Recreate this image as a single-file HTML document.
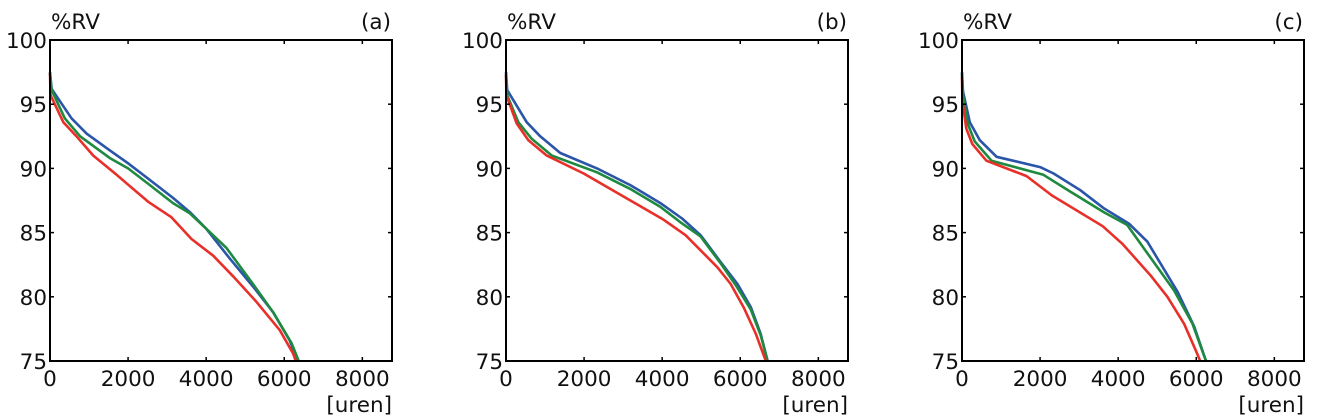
<!DOCTYPE html>
<html><head><meta charset="utf-8"><style>
html,body{margin:0;padding:0;background:#fff;}
svg{display:block;}
text{font-family:"DejaVu Sans","Liberation Sans",sans-serif;font-size:21.5px;fill:#111;}
</style></head><body>
<svg id="chart" width="1320" height="417" viewBox="0 0 1320 417"></svg>
<script>
const xTicks = [0, 2000, 4000, 6000, 8000];
const yTicks = [75, 80, 85, 90, 95, 100];
const panelLabels = ["(a)", "(b)", "(c)"];
const seriesColors = ["#2b55a8", "#1f8a3f", "#e8302a"];
const seriesNames = ["blue", "green", "red"];

const aBlueX = [0, 40, 550, 940, 1535, 2000, 2560, 3150, 3580, 4000, 4600, 5200, 5715, 6140, 6350];
const aBlueY = [97.5, 96.2, 93.9, 92.7, 91.4, 90.4, 89.1, 87.7, 86.6, 85.3, 83.0, 80.8, 78.8, 76.6, 75];
const aGreenX = [0, 40, 380, 770, 1535, 2000, 2560, 3150, 3580, 4000, 4520, 5200, 5715, 6185, 6370];
const aGreenY = [97.4, 96.1, 93.9, 92.5, 90.8, 90.0, 88.7, 87.3, 86.5, 85.3, 83.8, 81.0, 78.8, 76.4, 75];
const aRedX = [0, 15, 340, 680, 1110, 1705, 2515, 3110, 3625, 4180, 4690, 5290, 5885, 6225, 6295];
const aRedY = [97.4, 95.7, 93.6, 92.5, 91.0, 89.5, 87.4, 86.2, 84.5, 83.2, 81.6, 79.6, 77.4, 75.6, 75];

const bBlueX = [0, 30, 530, 875, 1390, 2330, 3185, 3955, 4510, 4985, 5500, 5930, 6270, 6525, 6700];
const bBlueY = [97.5, 96.1, 93.6, 92.5, 91.2, 90.0, 88.7, 87.3, 86.1, 84.8, 82.7, 81.0, 79.2, 77.1, 75];
const bGreenX = [0, 30, 315, 660, 1175, 2330, 3185, 3955, 4470, 4985, 5500, 5885, 6270, 6525, 6700];
const bGreenY = [97.3, 95.7, 93.6, 92.3, 91.0, 89.7, 88.4, 87.0, 85.8, 84.7, 82.6, 80.9, 79.0, 77.0, 75];
const bRedX = [0, 10, 275, 575, 1045, 1990, 3015, 4040, 4600, 5415, 5755, 6100, 6400, 6655];
const bRedY = [97.3, 95.7, 93.5, 92.2, 91.0, 89.6, 87.8, 86.0, 84.8, 82.3, 81.0, 79.1, 77.1, 75];

const cBlueX = [0, 25, 200, 455, 885, 2000, 2345, 3030, 3630, 4275, 4745, 5520, 5945, 6250];
const cBlueY = [97.5, 96.0, 93.6, 92.2, 90.9, 90.1, 89.6, 88.3, 86.9, 85.7, 84.3, 80.4, 77.7, 75];
const cGreenX = [0, 25, 155, 325, 755, 2085, 2770, 3630, 4230, 4745, 5430, 5905, 6250];
const cGreenY = [97.4, 95.6, 93.4, 92.1, 90.6, 89.5, 88.2, 86.6, 85.6, 83.4, 80.5, 77.9, 75];
const cRedX = [0, 10, 110, 265, 625, 1655, 2300, 3605, 4120, 4850, 5260, 5690, 5990, 6100];
const cRedY = [97.1, 95.3, 93.1, 91.9, 90.6, 89.4, 87.9, 85.5, 84.1, 81.6, 80.0, 77.9, 75.8, 75];

const panelsData = [
  [[aBlueX, aBlueY], [aGreenX, aGreenY], [aRedX, aRedY]],
  [[bBlueX, bBlueY], [bGreenX, bGreenY], [bRedX, bRedY]],
  [[cBlueX, cBlueY], [cGreenX, cGreenY], [cRedX, cRedY]]
];

const NS = "http://www.w3.org/2000/svg";
const svg = document.getElementById("chart");
const lefts = [50, 506, 962];
const W = 342, TOP = 40, BOT = 361;
const XMAX = 8760, YMIN = 75, YMAX = 100;

function mk(tag, attrs, parent) {
  const e = document.createElementNS(NS, tag);
  for (const k in attrs) e.setAttribute(k, attrs[k]);
  parent.appendChild(e);
  return e;
}

panelsData.forEach((series, p) => {
  const L = lefts[p], R = L + W;
  const sx = v => L + v / XMAX * W;
  const sy = v => BOT - (v - YMIN) / (YMAX - YMIN) * (BOT - TOP);
  const g = mk("g", {}, svg);
  
  

  series.forEach((s, i) => {
    const pts = s[0].map((x, k) => sx(x).toFixed(1) + "," + sy(s[1][k]).toFixed(1)).join(" ");
    const pl = mk("polyline", {points: pts, fill: "none", stroke: seriesColors[i], "stroke-width": 2.6, "stroke-linejoin": "round"}, g);
    
    
  });

  const frame = mk("rect", {x: L, y: TOP, width: W, height: BOT - TOP, fill: "none", stroke: "#000", "stroke-width": 2}, g);
  
  

  xTicks.forEach(t => {
    const x = sx(t);
    mk("line", {x1: x, y1: BOT, x2: x, y2: BOT - 4, stroke: "#000", "stroke-width": 1.5}, g);
    mk("line", {x1: x, y1: TOP, x2: x, y2: TOP + 4, stroke: "#000", "stroke-width": 1.5}, g);
    const tx = mk("text", {x: x, y: 386, "text-anchor": "middle"}, g);
    tx.textContent = t;
    
    
  });
  yTicks.forEach(t => {
    const y = sy(t);
    mk("line", {x1: L, y1: y, x2: L + 4, y2: y, stroke: "#000", "stroke-width": 1.5}, g);
    mk("line", {x1: R, y1: y, x2: R - 4, y2: y, stroke: "#000", "stroke-width": 1.5}, g);
    const ty = mk("text", {x: L - 3, y: y + 8, "text-anchor": "end"}, g);
    ty.textContent = t;
    
    
  });

  const yt = mk("text", {x: L + 1, y: 29}, g);
  yt.textContent = "%RV";
  
  
  const pt = mk("text", {x: R - 1, y: 29, "text-anchor": "end"}, g);
  pt.textContent = panelLabels[p];
  
  
  const xt = mk("text", {x: R, y: 412, "text-anchor": "end"}, g);
  xt.textContent = "[uren]";
  
  
});
</script>
</body></html>
